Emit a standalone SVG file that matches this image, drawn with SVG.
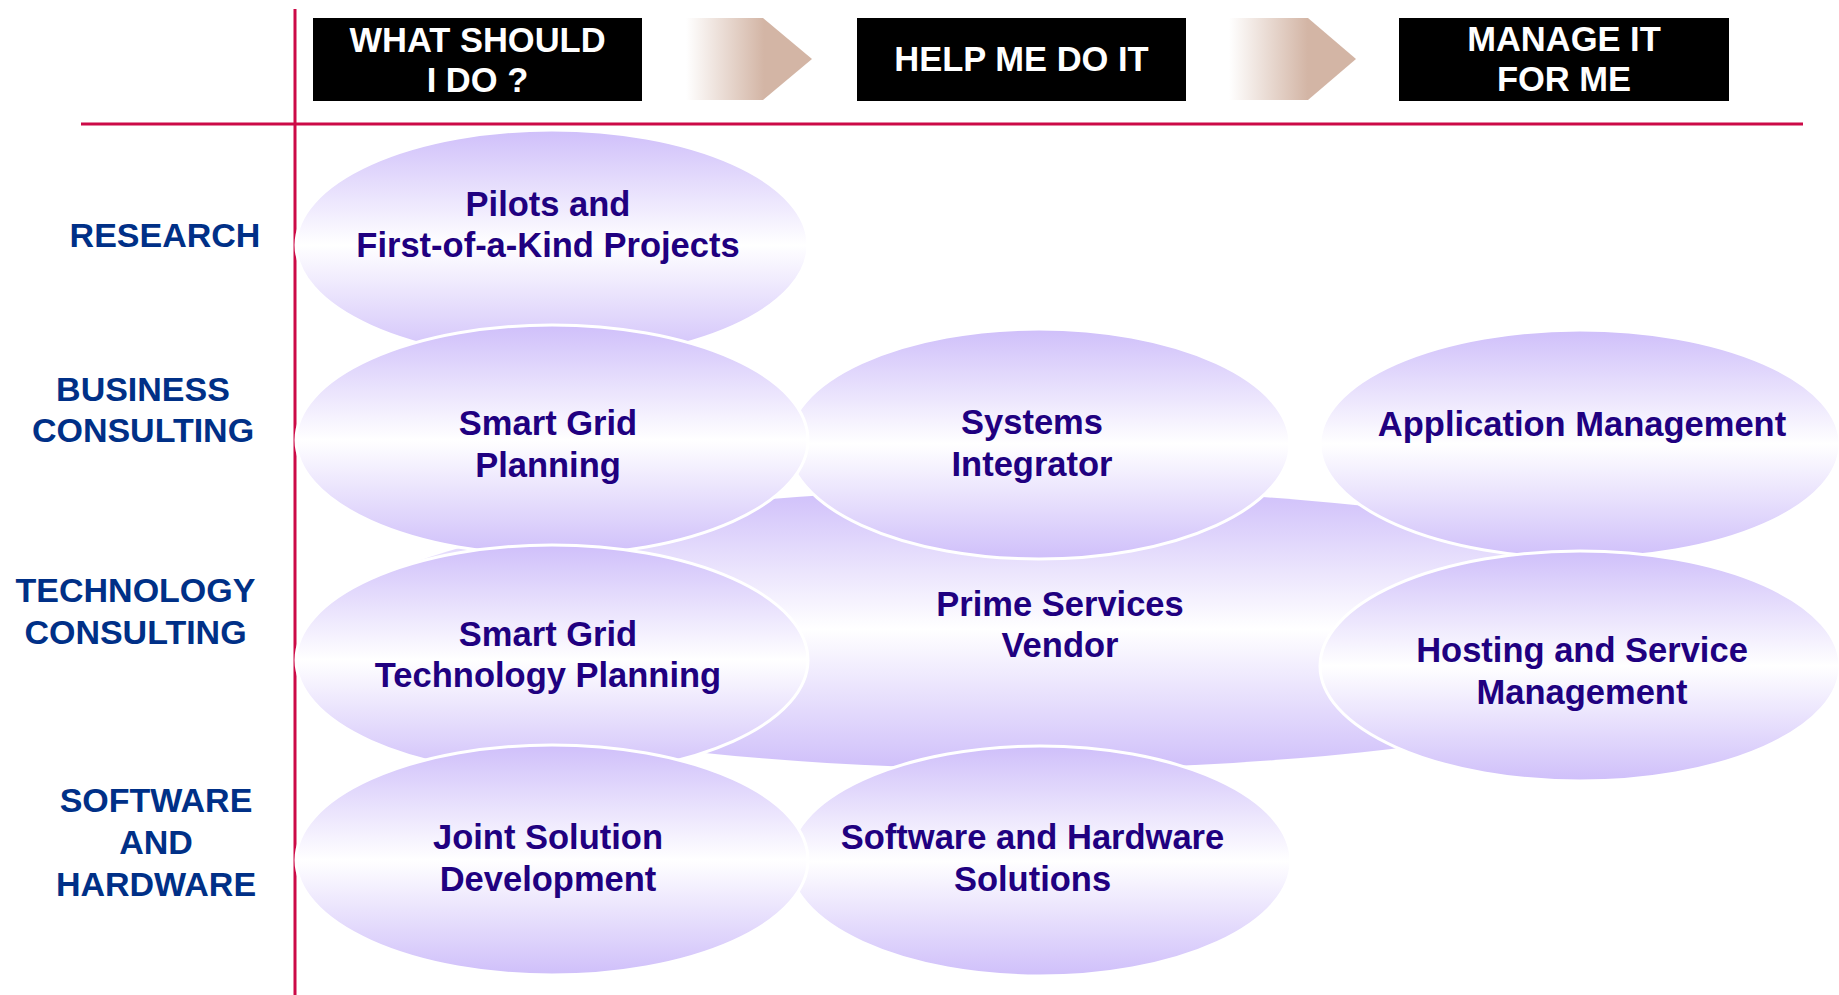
<svg xmlns="http://www.w3.org/2000/svg" width="1839" height="995" viewBox="0 0 1839 995">
  <defs>
    <linearGradient id="lav" x1="0" y1="0" x2="0" y2="1">
      <stop offset="0" stop-color="#CFBFFA"/>
      <stop offset="0.5" stop-color="#FFFFFF"/>
      <stop offset="1" stop-color="#CFBFFA"/>
    </linearGradient>
    <linearGradient id="tan" x1="0" y1="0" x2="0.62" y2="0">
      <stop offset="0" stop-color="#FFFFFF"/>
      <stop offset="1" stop-color="#D3B5A5"/>
    </linearGradient>
  </defs>
  <style>
    .ell { fill: url(#lav); stroke: #FFFFFF; stroke-width: 3; }
    .blob { fill: url(#lav); stroke: none; }
    .t { font-family: "Liberation Sans", Arial, sans-serif; font-weight: bold; font-size: 34.5px; fill: #200080; text-anchor: middle; }
    .lbl { font-family: "Liberation Sans", Arial, sans-serif; font-weight: bold; font-size: 34px; fill: #003087; text-anchor: middle; }
    .hdr { font-family: "Liberation Sans", Arial, sans-serif; font-weight: bold; font-size: 34.5px; fill: #FFFFFF; text-anchor: middle; }
    .box { fill: #000000; }
    .red { stroke: #CC0A47; stroke-width: 3; fill: none; }
    .arr { fill: url(#tan); }
  </style>

  <g id="grid-lines">
    <line class="red" x1="295" y1="9" x2="295" y2="995"/>
    <line class="red" x1="81" y1="124" x2="1803" y2="124"/>
  </g>

  <g id="header-what">
    <rect class="box" x="313" y="18" width="329" height="83"/>
    <text class="hdr" x="477.5" y="52">WHAT SHOULD</text>
    <text class="hdr" x="477.5" y="92">I DO ?</text>
  </g>
  <g id="header-help">
    <rect class="box" x="857" y="18" width="329" height="83"/>
    <text class="hdr" x="1021.5" y="71">HELP ME DO IT</text>
  </g>
  <g id="header-manage">
    <rect class="box" x="1399" y="18" width="330" height="83"/>
    <text class="hdr" x="1564" y="51">MANAGE IT</text>
    <text class="hdr" x="1564" y="91">FOR ME</text>
  </g>

  <g id="connectors">
    <polygon class="arr" points="686,18 763,18 812,59 763,100 686,100"/>
    <polygon class="arr" points="1229,18 1308,18 1356,59 1308,100 1229,100"/>
  </g>

  <g id="label-research"><text class="lbl" x="165" y="247">RESEARCH</text></g>
  <g id="label-business">
    <text class="lbl" x="143" y="401">BUSINESS</text>
    <text class="lbl" x="143" y="442">CONSULTING</text>
  </g>
  <g id="label-technology">
    <text class="lbl" x="135.5" y="602">TECHNOLOGY</text>
    <text class="lbl" x="135.5" y="644">CONSULTING</text>
  </g>
  <g id="label-software">
    <text class="lbl" x="156" y="812">SOFTWARE</text>
    <text class="lbl" x="156" y="854">AND</text>
    <text class="lbl" x="156" y="896">HARDWARE</text>
  </g>

  <g id="prime-services-vendor">
    <ellipse class="blob" cx="1030" cy="629" rx="700" ry="140"/>
  </g>
  <g id="application-management">
    <ellipse class="ell" cx="1580" cy="444" rx="260" ry="114"/>
    <text class="t" x="1582" y="436">Application Management</text>
  </g>
  <g id="hosting">
    <ellipse class="ell" cx="1580" cy="666" rx="260" ry="115"/>
    <text class="t" x="1582" y="662">Hosting and Service</text>
    <text class="t" x="1582" y="704">Management</text>
  </g>
  <g id="systems-integrator">
    <ellipse class="ell" cx="1039" cy="444" rx="251" ry="115"/>
    <text class="t" x="1032" y="434">Systems</text>
    <text class="t" x="1032" y="476">Integrator</text>
  </g>
  <g id="software-hardware-solutions">
    <ellipse class="ell" cx="1040" cy="861" rx="251" ry="115"/>
    <text class="t" x="1032.5" y="849">Software and Hardware</text>
    <text class="t" x="1032.5" y="891">Solutions</text>
  </g>
  <g id="prime-services-text">
    <text class="t" x="1060" y="616">Prime Services</text>
    <text class="t" x="1060" y="657">Vendor</text>
  </g>
  <g id="pilots">
    <ellipse class="ell" cx="552" cy="245" rx="256" ry="115"/>
    <text class="t" x="548" y="216">Pilots and</text>
    <text class="t" x="548" y="257">First-of-a-Kind Projects</text>
  </g>
  <g id="smart-grid-planning">
    <ellipse class="ell" cx="552" cy="440" rx="256" ry="115"/>
    <text class="t" x="548" y="435">Smart Grid</text>
    <text class="t" x="548" y="477">Planning</text>
  </g>
  <g id="smart-grid-technology-planning">
    <ellipse class="ell" cx="552" cy="660" rx="256" ry="115"/>
    <text class="t" x="548" y="646">Smart Grid</text>
    <text class="t" x="548" y="687">Technology Planning</text>
  </g>
  <g id="joint-solution-development">
    <ellipse class="ell" cx="552" cy="860" rx="256" ry="115"/>
    <text class="t" x="548" y="849">Joint Solution</text>
    <text class="t" x="548" y="891">Development</text>
  </g>
</svg>
